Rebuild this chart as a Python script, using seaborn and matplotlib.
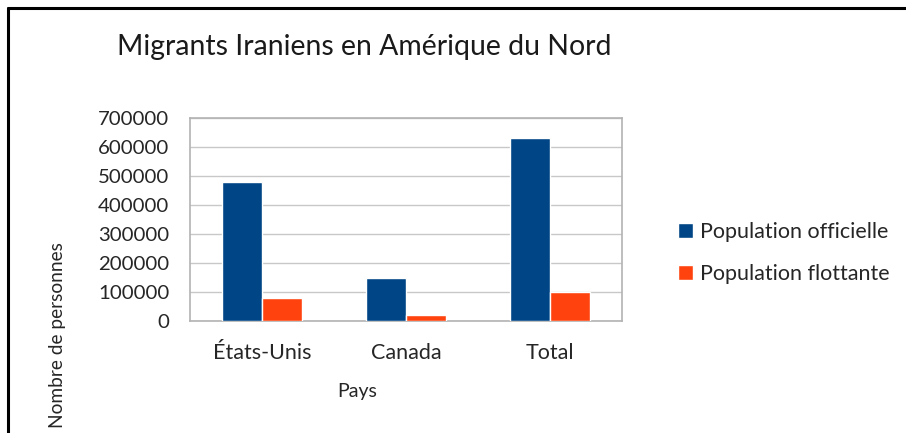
import matplotlib
matplotlib.use("Agg")
import pandas as pd
import seaborn as sns
from matplotlib import pyplot as plt
from matplotlib.lines import Line2D
from matplotlib.ticker import MultipleLocator

pays = ["États-Unis", "Canada", "Total"]
series = ["Population officielle", "Population flottante"]
officielle = [480000, 150000, 630000]
flottante = [80000, 20000, 100000]
colors = ["#004586", "#ff420e"]

sns.set_style("white")
plt.rcParams["font.family"] = ["Lato", "DejaVu Sans"]

df = pd.DataFrame({
    "Pays": pays * 2,
    "Serie": [series[0]] * 3 + [series[1]] * 3,
    "Nombre": officielle + flottante,
})

fig = plt.figure(figsize=(9.06, 4.33), dpi=100)
ax = fig.add_axes([190 / 906, 1 - 321 / 433, 432 / 906, 203 / 433])

sns.barplot(data=df, x="Pays", y="Nombre", hue="Serie", palette=colors,
            width=0.56, gap=0, saturation=1, errorbar=None, ax=ax, zorder=3)

ax.set_ylim(0, 700000)
ax.yaxis.set_major_locator(MultipleLocator(100000))
ax.set_yticklabels([str(int(v)) for v in ax.get_yticks()])
ax.grid(axis="y", color="#c8c8c8", lw=1, zorder=0)
for s in ax.spines.values():
    s.set_color("#b3b3b3")
    s.set_linewidth(1.2)
ax.tick_params(axis="both", length=0, colors="#262626")
ax.tick_params(axis="x", pad=16, labelsize=15.5)
ax.tick_params(axis="y", pad=15, labelsize=14.7)

ax.set_xlabel("")
ax.set_ylabel("")
fig.text(357 / 906, 1 - 392 / 433, "Pays", ha="center", va="center",
         fontsize=14, color="#262626")
fig.text(57 / 906, 1 - 335 / 433, "Nombre de personnes", ha="center",
         va="center", rotation=90, fontsize=13.8, color="#262626")
fig.text(117 / 906, 1 - 47 / 433, "Migrants Iraniens en Amérique du Nord",
         ha="left", va="center", fontsize=20.4, color="#1a1a1a")

handles, labels = ax.get_legend_handles_labels()
ax.legend(handles, labels, loc="center left", bbox_to_anchor=(659 / 906, 1 - 253 / 433),
          bbox_transform=fig.transFigure, frameon=False, fontsize=15.5,
          handlelength=0.7, handleheight=0.7, handletextpad=0.3,
          labelspacing=1.0, labelcolor="#262626")

# outer frame (top and left edges)
fig.add_artist(Line2D([8 / 906, 8 / 906], [0, 1 - 8 / 433], transform=fig.transFigure,
                      color="black", lw=2.2))
fig.add_artist(Line2D([8 / 906, 1], [1 - 8 / 433, 1 - 8 / 433], transform=fig.transFigure,
                      color="black", lw=2.2))

fig.savefig("out.png", dpi=100)
